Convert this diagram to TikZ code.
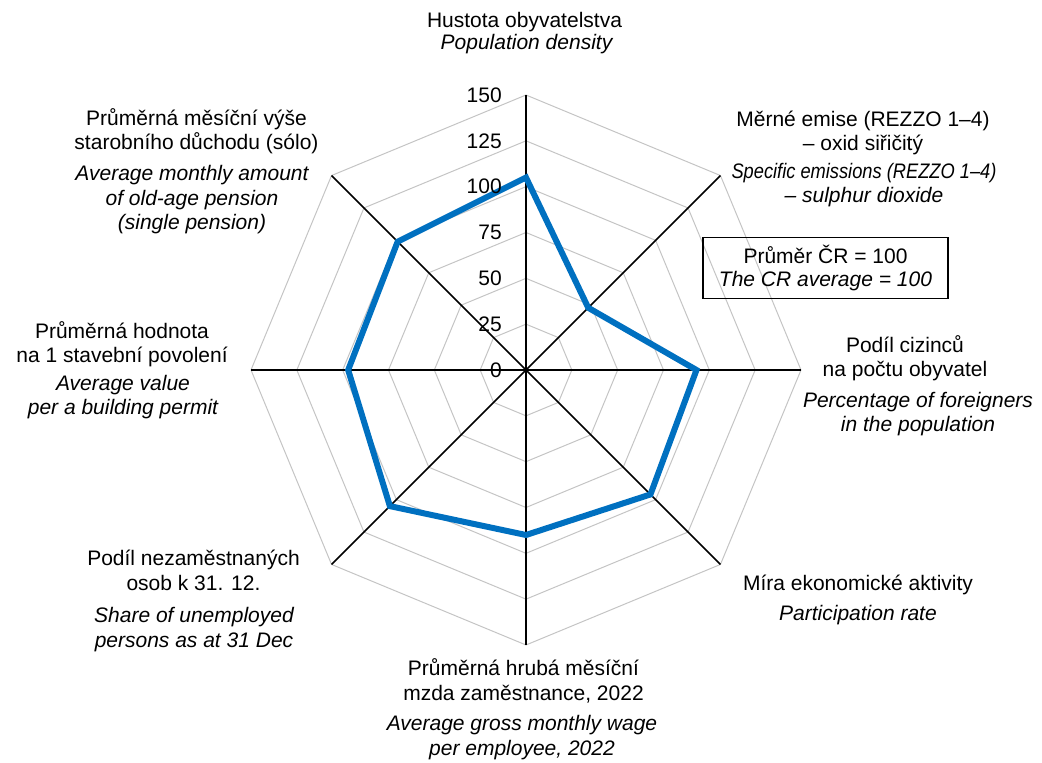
\documentclass[tikz,border=0pt]{standalone}
\usepackage{fontspec}
\usepackage{graphicx}
\setmainfont{Liberation Sans}
\usetikzlibrary{positioning}

\definecolor{csublue}{RGB}{0,112,192}
\definecolor{gridgray}{RGB}{196,196,196}
\newcommand{\lbl}{\fontsize{15.75}{18.5}\selectfont}

\begin{document}
\begin{tikzpicture}[x=0.75pt,y=0.75pt,
    ring/.style={draw=gridgray,line width=0.75pt},
    spoke/.style={draw=black,line width=1.1pt},
    valaxis/.style={draw=black,line width=1.9pt},
    series/.style={draw=csublue,line width=4.5pt},
    cz/.style={align=center,inner sep=0pt,anchor=base,font=\lbl},
    en/.style={cz,font=\lbl\itshape},
    tick/.style={anchor=east,inner sep=0pt,font=\lbl}]

  \useasboundingbox (-526,-393) rectangle (516,370);
  \coordinate (o) at (0,0);

  % grid rings, 25 per step, 150 = 275px
  \foreach \r in {25,50,...,150}
    \draw[ring] (90:{\r*11/6}) \foreach \a in {45,0,-45,-90,-135,180,135} {-- (\a:{\r*11/6})} -- cycle;

  % spokes
  \foreach \a/\n in {90/1,45/2,0/3,-45/4,-90/5,-135/6,180/7,135/8}
    \coordinate (ax\n) at (\a:275);
  \foreach \n in {2,...,8}
    \draw[spoke] (o) -- (ax\n);
  \draw[valaxis] (o) -- (ax1);

  % series
  \foreach \a/\v/\n in {90/105/1,45/48/2,0/93/3,-45/96/4,-90/90/5,-135/105/6,180/97/7,135/99/8}
    \coordinate (p\n) at (\a:{\v*11/6});
  \draw[series] (p1) -- (p2) -- (p3) -- (p4) -- (p5) -- (p6) -- (p7) -- (p8) -- cycle;

  % scale
  \foreach \v in {0,25,...,150}
    \node[tick] (t\v) at (-24,{\v*11/6}) {\v};

  % labels (base = last line)
  \node[cz] (czN) at (-1.5,342) {Hustota obyvatelstva};
  \node[en] (enN) at (0.5,320) {Population density};
  \node[cz] (czNE) at (337,219.3) {Měrné emise (REZZO 1–4)\\– oxid siřičitý};
  \node[en] (enNE) at (338,167) {\scalebox{0.87}[1]{Specific emissions (REZZO 1–4)}\\– sulphur dioxide};
  \node[draw,line width=1.1pt,minimum width=183.75pt,minimum height=45.75pt,
    align=center,font=\fontsize{15.75}{17}\selectfont] (avg) at (299.5,102)
    {Průměr ČR = 100\\\textit{The CR average = 100}};
  \node[cz] (czE) at (379,-6.7) {Podíl cizinců\\na počtu obyvatel};
  \node[en] (enE) at (392,-61.7) {Percentage of foreigners\\in the population};
  \node[cz] (czSE) at (332,-220.7) {Míra ekonomické aktivity};
  \node[en] (enSE) at (332,-250) {Participation rate};
  \node[cz] (czS) at (-2.5,-330) {Průměrná hrubá měsíční\\mzda zaměstnance, 2022};
  \node[en] (enS) at (-4,-385) {Average gross monthly wage\\per employee, 2022};
  \node[cz] (czSW) at (-332.5,-220) {Podíl nezaměstnaných\\osob k 31. 12.};
  \node[en] (enSW) at (-332,-277) {Share of unemployed\\persons as at 31 Dec};
  \node[cz] (czW) at (-404,7) {Průměrná hodnota\\na 1 stavební povolení};
  \node[en] (enW) at (-403,-45) {Average value\\per a building permit};
  \node[cz] (czNW) at (-329.5,220) {Průměrná měsíční výše\\starobního důchodu (sólo)};
  \node[en] (enNW) at (-334,140) {Average monthly amount\\of old-age pension\\(single pension)};
\end{tikzpicture}
\end{document}
